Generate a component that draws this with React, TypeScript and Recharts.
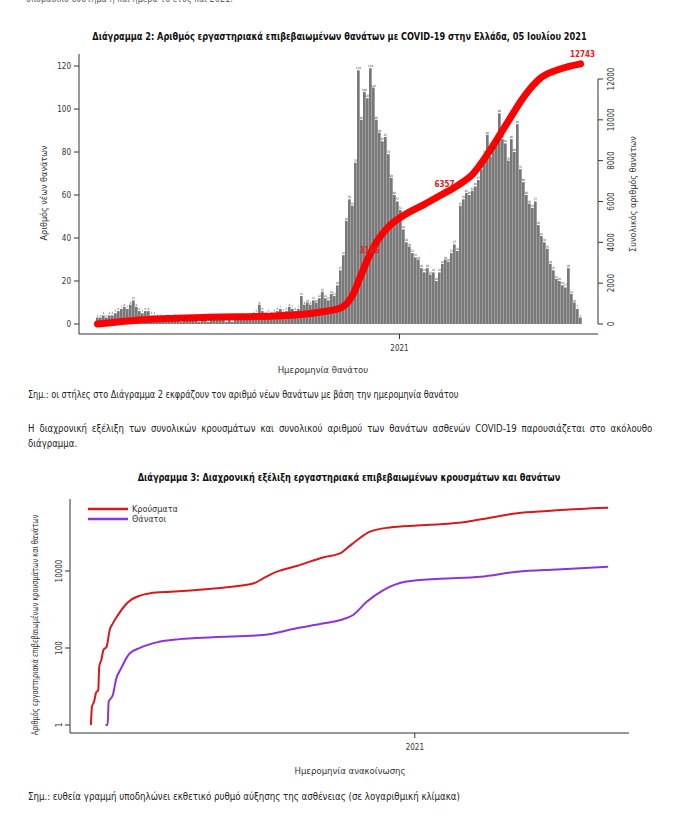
import React from "react";
import {
  ComposedChart,
  LineChart,
  Bar,
  Line,
  XAxis,
  YAxis,
  ReferenceLine,
  LabelList,
  Legend,
} from "recharts";

const FONT = "'Liberation Sans Narrow', 'DejaVu Sans Condensed', 'Open Sans', sans-serif";

// ---- Διάγραμμα 2: daily deaths, read in 3-day bins (first bin starts 04/03/2020)
const binDays = 3;
const deathsPerBin = [
  3, 3, 4, 3, 4, 4, 5, 6, 7, 8, 7, 9, 11, 8, 6, 5, 6, 6, 4, 4, 3,
  3, 2, 3, 2, 2, 3, 2, 1, 2, 2, 3, 2, 2, 1, 2, 2, 1, 2, 2, 3, 2, 2, 1, 2, 1, 2, 2, 3, 2, 3, 3, 4,
  5, 9, 6, 4, 5, 4, 5, 6, 7, 5, 6, 8, 7, 6, 7, 13, 9, 10, 9, 11, 10, 12, 15, 12, 11, 14,
  13, 18, 25, 32, 48, 58, 55, 75, 118, 95, 108, 105, 119, 110, 95, 89, 85, 87, 79, 68, 60,
  57, 53, 44, 38, 36, 33, 31, 30, 26, 24, 26, 23, 24, 20, 24, 28, 30, 29, 33, 37, 34,
  55, 58, 61, 60, 62, 64, 67, 72, 79, 88, 78, 81, 84, 98, 86, 84, 76, 86, 80, 93, 72,
  66, 60, 56, 54, 57, 46, 41, 38, 35, 28, 25, 21, 20, 18, 17, 26, 14, 10, 7, 3,
];
// cumulative deaths, at these bins
const cumBins = [0, 14, 37, 59, 75, 81, 85, 88, 90, 93, 97, 103, 109, 115, 120, 125, 131, 137, 142, 148, 154, 161];
const cumDeaths = [0, 200, 330, 390, 600, 780, 1400, 2450, 3146, 4010, 4760, 5400, 5860, 6357, 6780, 7330, 8540, 9950, 11100, 12080, 12480, 12743];
const cumLabelBins = [90, 115, 161];
const leftTicks = [0, 20, 40, 60, 80, 100, 120];
const rightTicks = [0, 2000, 4000, 6000, 8000, 10000, 12000];
const yearDay2 = 303;

// ---- Διάγραμμα 3: cumulative cases / deaths (days since 26/02/2020), log scale
const casesDays = [0, 1, 3, 5, 7, 8, 10, 12, 15, 18, 21, 26, 33, 39, 47, 57, 76, 101, 130, 156, 165, 178, 197, 223, 239, 245, 255, 267, 286, 312, 334, 360, 382, 408, 437, 468, 495];
const casesValues = [1, 3, 4, 7, 8, 33, 49, 89, 108, 295, 437, 724, 1310, 1830, 2290, 2630, 2890, 3200, 3780, 4790, 6450, 9600, 13500, 22800, 29000, 38900, 64000, 105000, 135000, 151000, 163000, 191000, 243000, 316000, 362000, 408000, 437000];
const deathsDays = [14, 16, 17, 21, 24, 29, 37, 47, 63, 85, 117, 165, 197, 223, 239, 251, 264, 280, 302, 334, 373, 408, 446, 495];
const deathsValues = [1, 1, 4, 6, 15, 30, 72, 101, 140, 170, 190, 218, 325, 437, 535, 720, 1590, 3200, 5300, 6300, 7100, 9600, 11000, 12900];
const logTicks = [1, 100, 10000];
const yearDay3 = 310;
const seriesNames = ["Κρούσματα", "Θάνατοι"];
const seriesColors = ["#d7191c", "#8b35d6"];

const chart2Data = deathsPerBin.map((d, i) => {
  const k = cumBins.indexOf(i);
  return {
    day: i * binDays + 1,
    deaths: d,
    cum: k >= 0 ? cumDeaths[k] : null,
    label: cumLabelBins.includes(i) && k >= 0 ? String(cumDeaths[k]) : null,
  };
});
const casesData = casesDays.map((d, i) => ({ day: d, v: casesValues[i] }));
const deathsData = deathsDays.map((d, i) => ({ day: d, v: deathsValues[i] }));

const axisColor = "#333";

const RightTick = ({ x, y, payload }: any) => (
  <text x={x + 9} y={y} transform={`rotate(-90 ${x + 9} ${y})`} textAnchor="middle" fontSize={8} fill={axisColor} fontFamily={FONT}>
    {payload.value}
  </text>
);

const LogTick = ({ x, y, payload }: any) => (
  <text x={x - 1} y={y} transform={`rotate(-90 ${x - 1} ${y})`} textAnchor="middle" fontSize={8} fill={axisColor} fontFamily={FONT}>
    {payload.value}
  </text>
);

const CumLabel = ({ x, y, value }: any) =>
  value ? (
    <text x={x + 2} y={y - 7} textAnchor="middle" fontSize={8} fontWeight="bold" fill="#e3201b" fontFamily={FONT}>
      {value}
    </text>
  ) : null;

// legend keeps the drawing order of the series
const legendContent = () => (
  <div style={{ fontFamily: FONT, fontSize: 9, color: "#333" }}>
    {seriesNames.map((name, i) => (
      <div key={name} style={{ display: "flex", alignItems: "center", height: 10 }}>
        <svg width={40} height={4}>
          <line x1={0} x2={40} y1={2} y2={2} stroke={seriesColors[i]} strokeWidth={2.5} />
        </svg>
        <span style={{ marginLeft: 4 }}>{name}</span>
      </div>
    ))}
  </div>
);

function Rotated({ cx, cy, children, size = 9, squeeze = 1 }: any) {
  return (
    <div
      style={{
        position: "absolute",
        left: cx,
        top: cy,
        width: "max-content",
        transform: `translate(-50%, -50%) rotate(-90deg) scaleX(${squeeze})`,
        whiteSpace: "nowrap",
        fontSize: size,
        color: "#333",
      }}
    >
      {children}
    </div>
  );
}

const abs = (top: number, left: number, extra: any = {}) => ({ position: "absolute" as const, top, left, ...extra });
const squeezeLeft = (s: number) => ({ transform: `scaleX(${s})`, transformOrigin: "left top", whiteSpace: "nowrap" as const });

export default function App() {
  return (
    <div style={{ position: "absolute", left: 0, top: 0, width: 679, height: 815, overflow: "hidden", background: "#fff", fontFamily: FONT, color: "#222" }}>
      <div style={abs(-7, 26, { fontSize: 10, color: "#666", ...squeezeLeft(0.9) })}>σποραδικό σύστημα ή και ημέρα το έτος και 2021.</div>

      <div style={abs(30, 0, { width: 679, textAlign: "center", fontSize: 11, fontWeight: "bold", color: "#111", transform: "scaleX(0.83)" })}>
        Διάγραμμα 2: Αριθμός εργαστηριακά επιβεβαιωμένων θανάτων με COVID-19 στην Ελλάδα, 05 Ιουλίου 2021
      </div>

      <div style={abs(0, 0)}>
        <ComposedChart width={679} height={400} data={chart2Data} margin={{ top: 54, right: 41, bottom: 36, left: 39 }}>
          <XAxis
            type="number"
            dataKey="day"
            domain={[-17.5, 501.5]}
            allowDataOverflow
            ticks={[yearDay2]}
            tickFormatter={() => "2021"}
            height={30}
            tickSize={5}
            tickMargin={6}
            stroke={axisColor}
            tick={{ fontSize: 8, fill: axisColor, fontFamily: FONT }}
          />
          <YAxis
            yAxisId="left"
            domain={[-4.65, 125.6]}
            allowDataOverflow
            ticks={leftTicks}
            width={40}
            tickSize={5}
            tickMargin={3}
            stroke={axisColor}
            tick={{ fontSize: 8, fill: axisColor, fontFamily: FONT }}
          />
          <YAxis
            yAxisId="right"
            orientation="right"
            domain={[-490, 13224]}
            allowDataOverflow
            ticks={rightTicks}
            width={40}
            tickSize={5}
            tickMargin={2}
            axisLine={false}
            tickLine={{ stroke: axisColor }}
            tick={<RightTick />}
          />
          <ReferenceLine
            yAxisId="right"
            segment={[
              { x: 501.5, y: 0 },
              { x: 501.5, y: 12000 },
            ]}
            stroke={axisColor}
            ifOverflow="visible"
          />
          <Bar yAxisId="left" dataKey="deaths" fill="#787878" barSize={3} isAnimationActive={false}>
            <LabelList dataKey="deaths" position="top" offset={1} fontSize={3} fill="#333" />
          </Bar>
          <Line
            yAxisId="right"
            dataKey="cum"
            type="monotone"
            stroke="#ff0000"
            strokeWidth={7}
            strokeLinecap="round"
            dot={false}
            connectNulls
            isAnimationActive={false}
          >
            <LabelList dataKey="label" content={<CumLabel />} />
          </Line>
        </ComposedChart>
      </div>

      <Rotated cx={44} cy={193}>Αριθμός νέων θανάτων</Rotated>
      <Rotated cx={633} cy={194}>Συνολικός αριθμός θανάτων</Rotated>
      <div style={abs(364, 223, { width: 200, textAlign: "center", fontSize: 9.5, color: "#333" })}>Ημερομηνία θανάτου</div>

      <div style={abs(389, 28, { fontSize: 10, ...squeezeLeft(0.9) })}>
        Σημ.: οι στήλες στο Διάγραμμα 2 εκφράζουν τον αριθμό νέων θανάτων με βάση την ημερομηνία θανάτου
      </div>
      <div style={abs(421, 28, { width: 657, fontSize: 10, lineHeight: "15px", textAlign: "justify", transform: "scaleX(0.95)", transformOrigin: "left top" })}>
        Η διαχρονική εξέλιξη των συνολικών κρουσμάτων και συνολικού αριθμού των θανάτων ασθενών COVID-19 παρουσιάζεται στο ακόλουθο διάγραμμα.
      </div>

      <div style={abs(471, 0, { width: 698, textAlign: "center", fontSize: 11, fontWeight: "bold", color: "#111", transform: "scaleX(0.83)" })}>
        Διάγραμμα 3: Διαχρονική εξέλιξη εργαστηριακά επιβεβαιωμένων κρουσμάτων και θανάτων
      </div>

      <div style={abs(460, 0)}>
        <LineChart width={679} height={320} margin={{ top: 39, right: 50, bottom: 22, left: 40 }}>
          <XAxis
            type="number"
            dataKey="day"
            domain={[-20, 515]}
            allowDataOverflow
            ticks={[yearDay3]}
            tickFormatter={() => "2021"}
            height={25}
            tickSize={5}
            tickMargin={6}
            stroke={axisColor}
            tick={{ fontSize: 8, fill: axisColor, fontFamily: FONT }}
          />
          <YAxis
            scale="log"
            domain={[0.62, 741000]}
            allowDataOverflow
            ticks={logTicks}
            width={30}
            tickSize={5}
            tickMargin={2}
            stroke={axisColor}
            tick={<LogTick />}
          />
          <Legend
            layout="horizontal"
            align="center"
            verticalAlign="middle"
            wrapperStyle={{ left: 88, top: 44, width: "auto" }}
            content={legendContent}
          />
          <Line data={casesData} dataKey="v" name={seriesNames[0]} type="monotone" stroke={seriesColors[0]} strokeWidth={2} dot={false} isAnimationActive={false} />
          <Line data={deathsData} dataKey="v" name={seriesNames[1]} type="monotone" stroke={seriesColors[1]} strokeWidth={2} dot={false} isAnimationActive={false} />
        </LineChart>
      </div>

      <Rotated cx={35} cy={625} size={8.5} squeeze={0.86}>Αριθμός εργαστηριακά επιβεβαιωμένων κρουσμάτων και θανάτων</Rotated>
      <div style={abs(765, 250, { width: 200, textAlign: "center", fontSize: 9.5, color: "#333" })}>Ημερομηνία ανακοίνωσης</div>

      <div style={abs(791, 28, { fontSize: 10, ...squeezeLeft(0.96) })}>
        Σημ.: ευθεία γραμμή υποδηλώνει εκθετικό ρυθμό αύξησης της ασθένειας (σε λογαριθμική κλίμακα)
      </div>
    </div>
  );
}
